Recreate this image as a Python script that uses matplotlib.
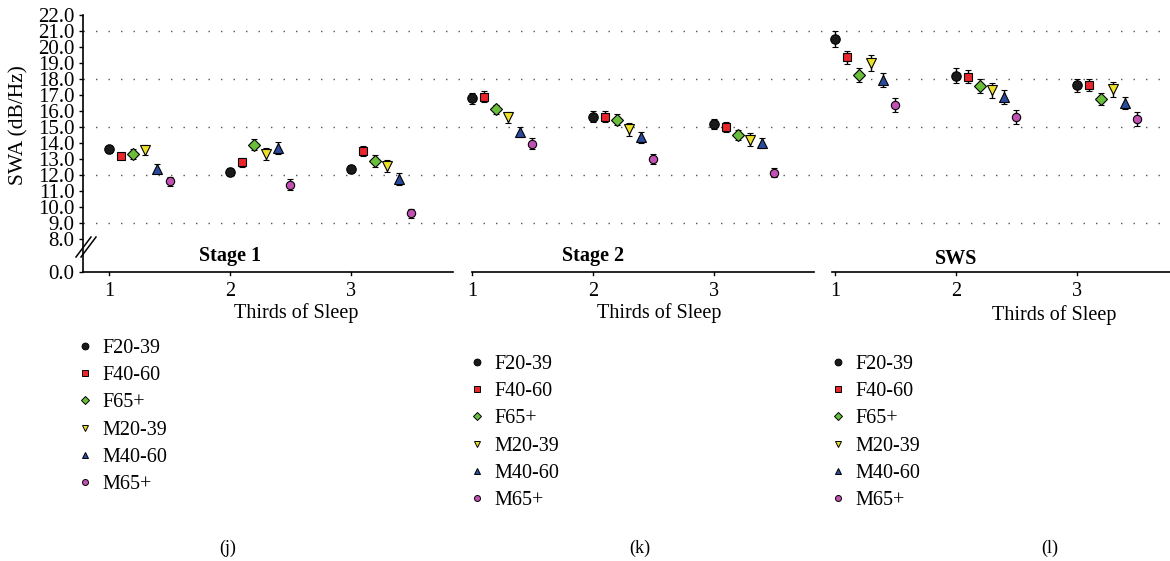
import numpy as np
import matplotlib
matplotlib.use("Agg")
import matplotlib.pyplot as plt
from matplotlib.lines import Line2D

plt.rcParams['font.family'] = ['Liberation Serif', 'DejaVu Serif']

# ---- data ----
GROUPS = ["F20-39", "F40-60", "F65+", "M20-39", "M40-60", "M65+"]
STAGES = ["Stage 1", "Stage 2", "SWS"]
THIRDS = ["1", "2", "3"]

# rows: thirds 1..3, columns: groups in GROUPS order
STAGE1_MEAN = [[13.6, 13.2, 13.3, 13.55, 12.4, 11.6],
               [12.2, 12.8, 13.9, 13.3, 13.7, 11.4],
               [12.4, 13.5, 12.9, 12.55, 11.75, 9.6]]
STAGE1_ERR = [[0.2, 0.2, 0.3, 0.3, 0.28, 0.28],
              [0.25, 0.29, 0.35, 0.38, 0.37, 0.35],
              [0.25, 0.29, 0.38, 0.38, 0.35, 0.3]]
STAGE2_MEAN = [[16.8, 16.9, 16.1, 15.6, 14.7, 13.95],
               [15.65, 15.65, 15.45, 14.85, 14.35, 13.0],
               [15.2, 15.0, 14.5, 14.2, 14.0, 12.15]]
STAGE2_ERR = [[0.35, 0.35, 0.3, 0.35, 0.33, 0.34],
              [0.35, 0.35, 0.35, 0.4, 0.34, 0.34],
              [0.3, 0.3, 0.34, 0.4, 0.34, 0.3]]
SWS_MEAN = [[20.5, 19.35, 18.25, 19.0, 17.95, 16.35],
            [18.2, 18.15, 17.55, 17.3, 16.9, 15.6],
            [17.6, 17.6, 16.75, 17.35, 16.5, 15.5]]
SWS_ERR = [[0.48, 0.42, 0.42, 0.48, 0.44, 0.44],
           [0.46, 0.43, 0.42, 0.48, 0.44, 0.44],
           [0.43, 0.38, 0.4, 0.46, 0.39, 0.42]]

Y_TICKS = [8, 9, 10, 11, 12, 13, 14, 15, 16, 17, 18, 19, 20, 21, 22]
GRID_AT = [9, 12, 15, 18, 21]

# ---- styling ----
COLORS = ['#1a1a1a', '#e8262b', '#6abf3a', '#ede02a', '#2a4a9c', '#c050b4']
MARKERS = ['o', 's', 'D', 'v', '^', 'o']
MSIZES = [6.8, 6.2, 5.8, 6.8, 6.8, 6.0]
Y_ZERO = 5.94   # where the "0.0" sits below the axis break
FS = 14.5

W, H = 1170, 561
BASE = 272  # pixel row of the x axes
fig = plt.figure(figsize=(W / 100, H / 100), dpi=100)
ax = fig.add_axes([83 / W, 1 - BASE / H, (W - 83) / W, (BASE - 15) / H])

means = [np.array(STAGE1_MEAN), np.array(STAGE2_MEAN), np.array(SWS_MEAN)]
errs = [np.array(STAGE1_ERR), np.array(STAGE2_ERR), np.array(SWS_ERR)]

for g, name in enumerate(GROUPS):
    xs, ys, es = [], [], []
    for s in range(3):
        for t in range(3):
            xs.append(3 * s + t + 0.1 * g)
            ys.append(means[s][t, g])
            es.append(errs[s][t, g])
    ax.errorbar(xs, ys, yerr=es, fmt=MARKERS[g], ms=MSIZES[g],
                mfc=COLORS[g], mec='black', mew=0.8, ecolor='black',
                elinewidth=1.0, capsize=2.5, capthick=1.0, zorder=3)

ax.set_xlim(-0.215, 8.77)
ax.set_ylim(Y_ZERO, 22)

for v in GRID_AT:
    ax.axhline(v, color='#555555', lw=1.0, ls=(0, (1, 8)), zorder=1)

# y axis with break
ax.set_yticks([Y_ZERO] + Y_TICKS)
ax.set_yticklabels(["0.0"] + ["%.1f" % v for v in Y_TICKS])
ax.tick_params(axis='y', labelsize=15, length=3, width=1, pad=3)
for sp in ['top', 'right', 'bottom']:
    ax.spines[sp].set_visible(False)
ax.spines['left'].set_linewidth(1.2)
ax.set_ylabel("SWA (dB/Hz)", fontsize=15.5)
ax.yaxis.set_label_coords(-0.05, 0.57)

for dx in (0, 5):
    fig.add_artist(Line2D([(76 + dx) / W, (91 + dx) / W],
                          [1 - 257 / H, 1 - 237 / H], color='black', lw=1.1))

# three separate x axes
ax.set_xticks([])
segments = [(-0.215, 2.84), (3.0, 5.83), (5.98, 8.77)]
for s, (a, b) in enumerate(segments):
    ax.plot([a, b], [Y_ZERO, Y_ZERO], color='black', lw=1.2, clip_on=False)
    for t in range(3):
        x = 3 * s + t
        ax.plot([x, x], [Y_ZERO, Y_ZERO - 0.2], color='black', lw=1.0,
                clip_on=False)
        ax.annotate(THIRDS[t], xy=(x, 0), xycoords=('data', 'axes fraction'),
                    xytext=(0, -14.4), textcoords='offset points',
                    ha='center', va='center', fontsize=FS)
    ax.annotate(STAGES[s], xy=(3 * s + 1, 0), xycoords=('data', 'axes fraction'),
                xytext=(0, 11.5 if s < 2 else 9.4), textcoords='offset points',
                ha='center', va='center', fontsize=FS, fontweight='bold')

xlab_pos = [(1.55, -29.5), (4.55, -29.5), (7.81, -31)]
for x, dy in xlab_pos:
    ax.annotate("Thirds of Sleep", xy=(x, 0), xycoords=('data', 'axes fraction'),
                xytext=(0, dy), textcoords='offset points',
                ha='center', va='center', fontsize=FS)

# legends under each panel
handles = [Line2D([], [], ls='none', marker=MARKERS[g], ms=MSIZES[g] * 0.72,
                  mfc=COLORS[g], mec='black', mew=0.7) for g in range(6)]
leg_pos = [(75, 339), (467, 355), (828, 355)]
for lx, ly in leg_pos:
    fig.legend(handles, GROUPS, loc='upper left',
               bbox_to_anchor=(lx / W, 1 - ly / H), frameon=False,
               borderpad=0, borderaxespad=0, handlelength=1.0,
               handletextpad=0.35, labelspacing=0.4, fontsize=FS)

for lab, px in zip(["(j)", "(k)", "(l)"], [228, 640, 1050]):
    fig.text(px / W, 1 - 548 / H, lab, ha='center', va='center', fontsize=13)

fig.savefig("out.png", dpi=100)
